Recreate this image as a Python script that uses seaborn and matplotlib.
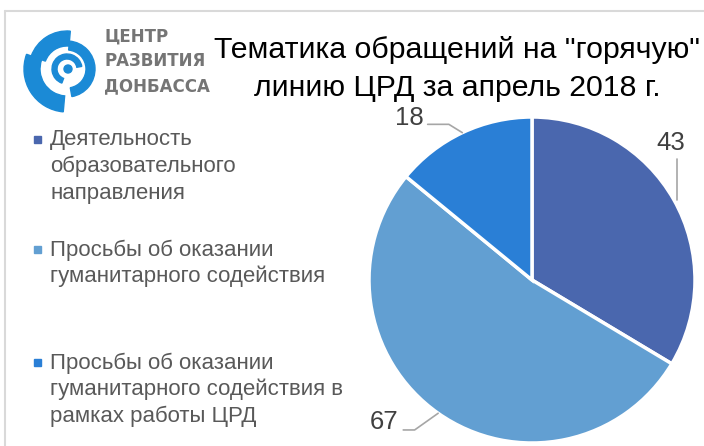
import numpy as np
import matplotlib
matplotlib.use("Agg")
import matplotlib.pyplot as plt
from matplotlib.patches import Wedge, Circle, Rectangle
from matplotlib.lines import Line2D
import seaborn as sns

# ---- data ----
categories = [
    "Деятельность\nобразовательного\nнаправления",
    "Просьбы об оказании\nгуманитарного содействия",
    "Просьбы об оказании\nгуманитарного содействия в\nрамках работы ЦРД",
]
values = [43, 67, 18]
colors = ["#4a67ae", "#629fd2", "#2a7fd6"]
title_lines = ['Тематика обращений на "горячую"', "линию ЦРД за апрель 2018 г."]
logo_lines = ["ЦЕНТР", "РАЗВИТИЯ", "ДОНБАССА"]

sns.set_theme(style="white")
plt.rcParams["font.family"] = ["Liberation Sans", "DejaVu Sans"]

W, H = 704, 446
fig = plt.figure(figsize=(W / 100, H / 100), dpi=100)
fig.patch.set_facecolor("white")

# background axes in pixel coordinates
bg = fig.add_axes([0, 0, 1, 1])
bg.set_xlim(0, W)
bg.set_ylim(H, 0)
bg.axis("off")

# frame
bg.add_line(Line2D([5, W], [11, 11], color="#d9d9d9", lw=1.5))
bg.add_line(Line2D([5, 5], [11, H], color="#d9d9d9", lw=1.5))

# logo
lc = (67, 69)
logo_col = "#1b8ad6"
bg.add_patch(Wedge(lc, 43, 95, 200, width=16, color=logo_col))
bg.add_patch(Wedge(lc, 38, 200, 275, width=15, color=logo_col))
bg.add_patch(Wedge(lc, 28, -85, 80, width=9, color=logo_col))
bg.add_patch(Wedge(lc, 15, 110, 350, width=5, color=logo_col))
bg.add_patch(Circle((lc[0] + 1, lc[1]), 4, color=logo_col))
for i, t in enumerate(logo_lines):
    bg.text(104, 37 + i * 24.5, t, fontsize=12, color="#757575",
            fontweight="bold", family="DejaVu Sans", va="center", ha="left")

# title
for i, t in enumerate(title_lines):
    bg.text(457, 50 + i * 38, t, fontsize=21.8, color="black",
            ha="center", va="center")

# legend
leg_y = [140, 250, 363]
line_h = 26.5
for y0, lab, c in zip(leg_y, categories, colors):
    bg.add_patch(Rectangle((34, y0 - 4), 7, 7, color=c))
    for j, ln in enumerate(lab.split("\n")):
        bg.text(50, y0 + j * line_h, ln, fontsize=16, color="#595959",
                ha="left", va="center")

# pie
cx, cy, R = 532, 280, 163
ax = fig.add_axes([(cx - R) / W, (H - cy - R) / H, 2 * R / W, 2 * R / H])
wedges, _ = ax.pie(values, colors=colors, startangle=90, counterclock=False,
                   radius=1, wedgeprops=dict(edgecolor="white", linewidth=2.5))
ax.set_xlim(-1, 1)
ax.set_ylim(-1, 1)
ax.axis("off")

# data labels with leader lines
label_off = [(0.85, 0.84), (-0.91, -0.87), (-0.75, 0.995)]
lead_pts = [
    [(0.89, 0.74)],
    [(-0.79, -0.92), (-0.72, -0.92)],
    [(-0.64, 0.955), (-0.51, 0.955)],
]
for w, v, (lx, ly), pts in zip(wedges, values, label_off, lead_pts):
    mid = np.deg2rad((w.theta1 + w.theta2) / 2)
    ex, ey = np.cos(mid), np.sin(mid)
    xs = [p[0] for p in pts] + [ex]
    ys = [p[1] for p in pts] + [ey]
    if len(pts) == 1:
        xs = [pts[0][0], pts[0][0]]
        ys = [pts[0][1], ey]
    ax.plot(xs, ys, color="#a6a6a6", lw=1.2, clip_on=False)
    ax.text(lx, ly, str(v), fontsize=18.5, color="#404040", ha="center",
            va="center")

fig.savefig("out.png", dpi=100, facecolor="white")
